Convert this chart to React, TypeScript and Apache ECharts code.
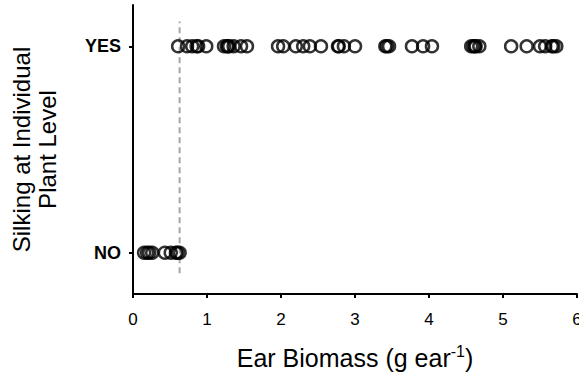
import React, { useEffect, useRef } from "react";
import * as echarts from "echarts";

const yesValues: number[] = [
  0.61, 0.73, 0.8, 0.86, 0.88, 0.99, 1.23, 1.27, 1.28, 1.3, 1.36, 1.46, 1.54,
  1.96, 2.03, 2.2, 2.3, 2.39, 2.54, 2.77, 2.78, 2.85, 3.0, 3.41, 3.43, 3.46,
  3.77, 3.92, 4.04, 4.57, 4.6, 4.62, 4.63, 4.68, 5.11, 5.32, 5.5, 5.57, 5.66,
  5.68, 5.72,
];
const noValues: number[] = [0.15, 0.19, 0.22, 0.26, 0.43, 0.51, 0.58, 0.6, 0.63];
const thresholdX = 0.63;
const thresholdSpan: number[] = [-0.1, 1.12];
const xTicks: number[] = [0, 1, 2, 3, 4, 5, 6];
const yLabels: Record<number, string> = { 0: "NO", 1: "YES" };

export default function App() {
  const ref = useRef<HTMLDivElement>(null);
  useEffect(() => {
    if (!ref.current) return;
    const chart = echarts.init(ref.current, null, { renderer: "svg" });
    const font = "Liberation Sans, Arial, sans-serif";
    chart.setOption({
      animation: false,
      grid: { left: 133, right: 2, top: 5, bottom: 81, containLabel: false, outerBoundsMode: "none" },
      xAxis: {
        type: "value",
        min: 0,
        max: 6,
        interval: 1,
        name: "Ear Biomass (g ear{sup|-1})",
        nameLocation: "middle",
        nameGap: 49,
        nameTextStyle: {
          fontFamily: font,
          fontSize: 25,
          color: "#000",
          rich: { sup: { fontSize: 16, verticalAlign: "top", padding: [0, 0, 14, 0], fontFamily: font, color: "#000" } },
        },
        axisLine: { show: true, onZero: false, lineStyle: { color: "#000", width: 2 } },
        axisTick: { show: true, length: 4, lineStyle: { color: "#000", width: 2 } },
        axisLabel: {
          fontFamily: font,
          fontSize: 17,
          color: "#000",
          margin: 17,
          customValues: xTicks,
        },
        splitLine: { show: false },
      },
      yAxis: {
        type: "value",
        min: -0.2,
        max: 1.2,
        name: "Silking at Individual\nPlant Level",
        nameLocation: "middle",
        nameRotate: 90,
        nameGap: 73,
        nameTextStyle: { fontFamily: font, fontSize: 24, color: "#000", lineHeight: 26 },
        axisLine: { show: true, onZero: false, lineStyle: { color: "#000", width: 2 } },
        axisTick: { show: true, length: 4, customValues: [0, 1], lineStyle: { color: "#000", width: 2 } },
        axisLabel: {
          customValues: [0, 1],
          formatter: (v: number) => yLabels[Math.round(v)] ?? "",
          fontFamily: font,
          fontSize: 18,
          fontWeight: "bold",
          color: "#000",
          margin: 12,
        },
        splitLine: { show: false },
      },
      series: [
        {
          type: "line",
          data: thresholdSpan.map((y) => [thresholdX, y]),
          symbol: "none",
          lineStyle: { color: "#a6a6a6", width: 2, type: [6, 4] },
          z: 1,
        },
        {
          type: "scatter",
          data: yesValues.map((x) => [x, 1]),
          symbol: "circle",
          symbolSize: 12,
          itemStyle: { color: "rgba(255,255,255,0)", borderColor: "#000", borderWidth: 2.5 },
          z: 2,
        },
        {
          type: "scatter",
          data: noValues.map((x) => [x, 0]),
          symbol: "circle",
          symbolSize: 12,
          itemStyle: { color: "rgba(255,255,255,0)", borderColor: "#000", borderWidth: 2.5 },
          z: 2,
        },
      ],
    });
    return () => chart.dispose();
  }, []);
  return <div ref={ref} style={{ width: 579, height: 375, position: "absolute", left: 0, top: 0 }} />;
}
